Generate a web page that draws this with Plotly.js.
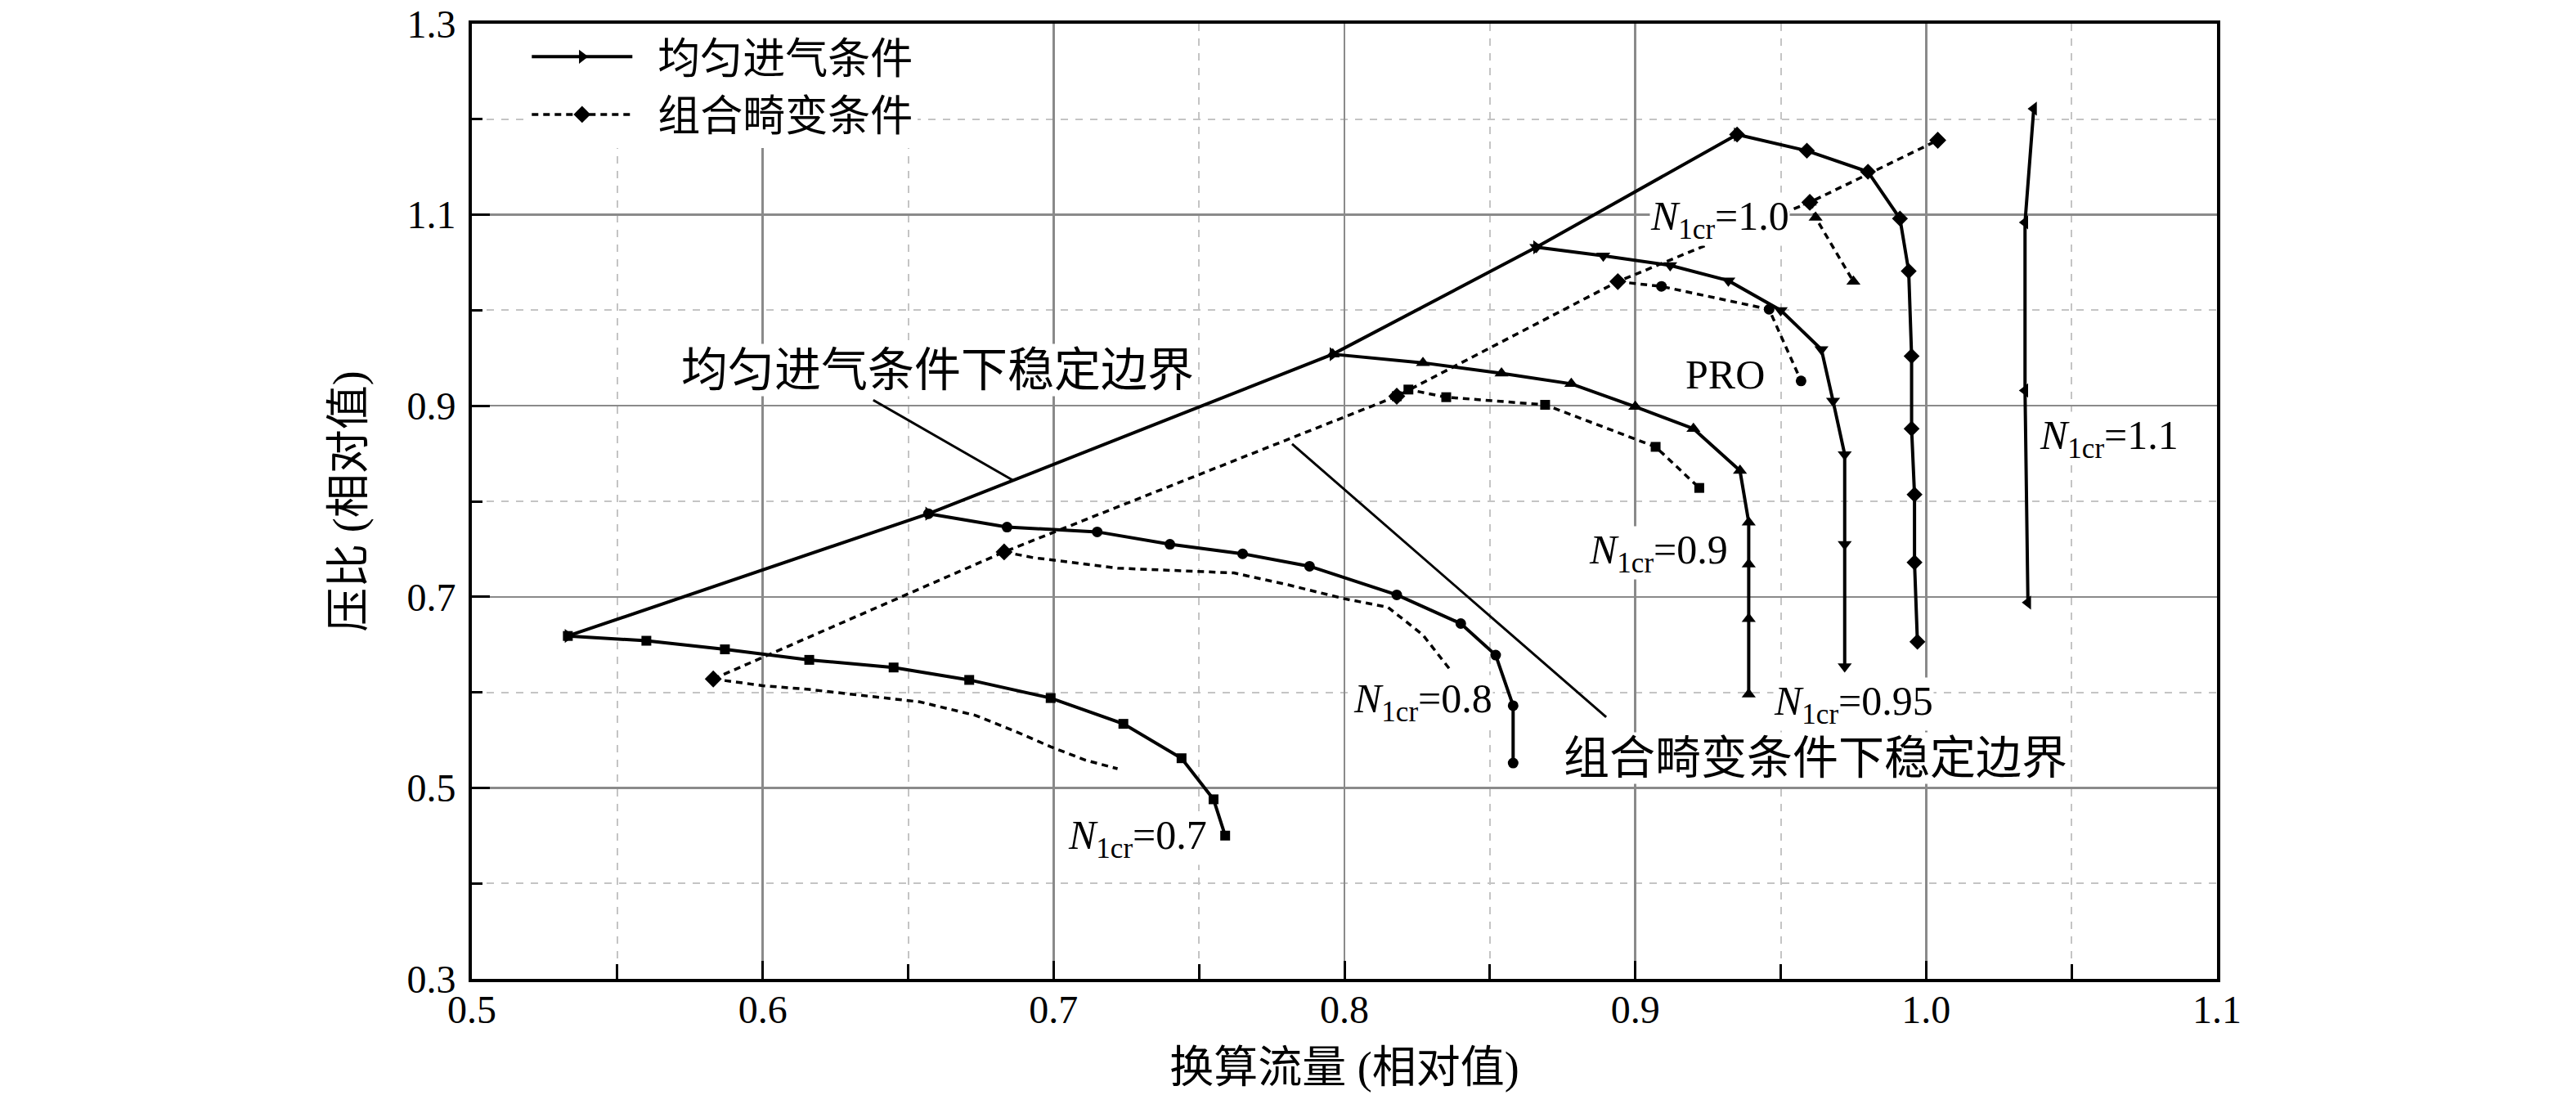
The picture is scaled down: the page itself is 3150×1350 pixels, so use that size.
<!DOCTYPE html>
<html>
<head>
<meta charset="utf-8">
<script src="https://cdn.plot.ly/plotly-3.0.1.min.js"></script>
<style>
  body { margin: 0; background: #fff; }
  #plot { width: 3150px; height: 1350px; }
</style>
</head>
<body>
<div id="plot"></div>
<script>
// speed lines, uniform inflow (solid)
const n07X = [0.533, 0.560, 0.587, 0.616, 0.645, 0.671, 0.699, 0.724, 0.744, 0.755, 0.759];
const n07Y = [0.659, 0.654, 0.645, 0.634, 0.626, 0.613, 0.594, 0.567, 0.531, 0.488, 0.450];
const n08X = [0.657, 0.684, 0.715, 0.740, 0.765, 0.788, 0.818, 0.840, 0.852, 0.858, 0.858];
const n08Y = [0.787, 0.773, 0.768, 0.755, 0.745, 0.732, 0.702, 0.672, 0.639, 0.586, 0.526];
const n09X = [0.796, 0.827, 0.854, 0.878, 0.900, 0.920, 0.936, 0.939, 0.939, 0.939, 0.939];
const n09Y = [0.954, 0.945, 0.934, 0.923, 0.899, 0.876, 0.832, 0.778, 0.734, 0.677, 0.598];
const n095X = [0.866, 0.889, 0.912, 0.932, 0.950, 0.964, 0.968, 0.972, 0.972, 0.972];
const n095Y = [1.066, 1.057, 1.047, 1.031, 1.000, 0.959, 0.905, 0.849, 0.755, 0.627];
const n10X = [0.935, 0.959, 0.980, 0.991, 0.994, 0.995, 0.995, 0.996, 0.996, 0.997];
const n10Y = [1.184, 1.167, 1.145, 1.096, 1.041, 0.952, 0.876, 0.807, 0.736, 0.653];
const n11X = [1.037, 1.034, 1.034, 1.035];
const n11Y = [1.211, 1.092, 0.916, 0.694];

// speed lines, combined distortion (dashed)
const n07dX = [0.583, 0.600, 0.616, 0.636, 0.654, 0.673, 0.687, 0.699, 0.711, 0.722];
const n07dY = [0.614, 0.607, 0.603, 0.596, 0.590, 0.576, 0.559, 0.543, 0.529, 0.520];
const n08dX = [0.683, 0.693, 0.722, 0.762, 0.780, 0.800, 0.815, 0.827, 0.836];
const n08dY = [0.747, 0.741, 0.730, 0.725, 0.713, 0.698, 0.689, 0.660, 0.625];
const n09dX = [0.818, 0.822, 0.835, 0.869, 0.907, 0.922];
const n09dY = [0.910, 0.917, 0.909, 0.901, 0.857, 0.814];
const n095dX = [0.894, 0.909, 0.946, 0.957];
const n095dY = [1.030, 1.025, 1.001, 0.926];
const n10dX = [0.960, 0.962, 0.975];
const n10dY = [1.113, 1.097, 1.030];

// stability boundaries
const surgeUniX = [0.533, 0.657, 0.796, 0.866, 0.935];
const surgeUniY = [0.659, 0.787, 0.954, 1.066, 1.184];
const surgeDistX = [0.583, 0.683, 0.818, 0.894, 0.960, 1.004];
const surgeDistY = [0.614, 0.747, 0.910, 1.030, 1.113, 1.178];

const xTicks = [0.5, 0.6, 0.7, 0.8, 0.9, 1.0, 1.1];
const xTickText = ['0.5', '0.6', '0.7', '0.8', '0.9', '1.0', '1.1'];
const yTicks = [0.3, 0.5, 0.7, 0.9, 1.1, 1.3];
const yTickText = ['0.3', '0.5', '0.7', '0.9', '1.1', '1.3'];

const FONT = 'Liberation Serif, Noto Sans CJK SC, serif';
const SOLID_W = 4;
const DASH_W = 3.5;
const DASH = '8px,6px';

function line(x, y, dashed, symbol, size, name, legend) {
    return {
        x: x, y: y,
        type: 'scatter',
        mode: symbol ? 'lines+markers' : 'lines',
        name: name || '',
        showlegend: !!legend,
        line: { color: '#000', width: dashed ? DASH_W : SOLID_W, dash: dashed ? DASH : 'solid' },
        marker: { symbol: symbol || 'circle', size: size || 12, color: '#000' },
        hoverinfo: 'x+y'
    };
}

const traces = [
    line(surgeUniX, surgeUniY, false, 'triangle-right', 15, '\u2002均匀进气条件', true),
    line(surgeDistX, surgeDistY, true, 'diamond', 16, '\u2002组合畸变条件', true),
    line(n07X, n07Y, false, 'square', 12),
    line(n08X, n08Y, false, 'circle', 13),
    line(n09X, n09Y, false, 'triangle-up', 15),
    line(n095X, n095Y, false, 'triangle-down', 15),
    line(n10X, n10Y, false, 'diamond', 15),
    line(n11X, n11Y, false, 'triangle-left', 15),
    line(n07dX, n07dY, true, null),
    line(n08dX, n08dY, true, null),
    line(n09dX, n09dY, true, 'square', 12),
    line(n095dX, n095dY, true, 'circle', 13),
    line(n10dX, n10dY, true, 'triangle-up', 15)
];

function label(x, y, text, size) {
    return {
        x: x, y: y, xref: 'x', yref: 'y',
        text: text, showarrow: false,
        font: { family: FONT, size: size || 50, color: '#000' },
        bgcolor: '#fff', borderpad: 0
    };
}

const annotations = [
    label(0.929, 1.095, '<i>N</i><sub>1cr</sub>=1.0'),
    label(0.931, 0.933, 'PRO'),
    label(0.908, 0.746, '<i>N</i><sub>1cr</sub>=0.9'),
    label(0.827, 0.590, '<i>N</i><sub>1cr</sub>=0.8'),
    label(0.975, 0.588, '<i>N</i><sub>1cr</sub>=0.95'),
    label(1.063, 0.866, '<i>N</i><sub>1cr</sub>=1.1'),
    label(0.729, 0.447, '<i>N</i><sub>1cr</sub>=0.7'),
    label(0.660, 0.937, '均匀进气条件下稳定边界', 57),
    label(0.962, 0.531, '组合畸变条件下稳定边界', 56)
];

// leader lines from the two boundary labels
const shapes = [
    { type: 'line', xref: 'x', yref: 'y', x0: 0.638, y0: 0.906, x1: 0.686, y1: 0.822,
      line: { color: '#000', width: 3 } },
    { type: 'line', xref: 'x', yref: 'y', x0: 0.782, y0: 0.860, x1: 0.890, y1: 0.574,
      line: { color: '#000', width: 3 } }
];

const axisCommon = {
    showline: true, mirror: true, linecolor: '#000', linewidth: 4,
    showgrid: true, gridcolor: '#8a8a8a', gridwidth: 2.5,
    zeroline: false,
    ticks: 'inside', ticklen: 22, tickwidth: 3, tickcolor: '#000',
    tickfont: { family: FONT, size: 48, color: '#000' }
};

const layout = {
    width: 3150, height: 1350,
    margin: { l: 577, r: 439, t: 29, b: 153 },
    paper_bgcolor: '#fff', plot_bgcolor: '#fff',
    font: { family: FONT, color: '#000' },
    showlegend: true,
    legend: {
        x: 0.032, y: 1.0, xanchor: 'left', yanchor: 'top',
        bgcolor: '#fff', borderwidth: 0,
        font: { family: FONT, size: 52, color: '#000' },
        itemwidth: 123, tracegroupgap: 0
    },
    xaxis: Object.assign({}, axisCommon, {
        range: [0.5, 1.1], tickvals: xTicks, ticktext: xTickText,
        ticklabelstandoff: -8,
        minor: { dtick: 0.05, showgrid: true, gridcolor: '#c4c4c4', griddash: 'dash',
                 gridwidth: 2, ticks: 'inside', ticklen: 18, tickcolor: '#000', tickwidth: 3 },
        title: { text: '换算流量 (相对值)', font: { family: FONT, size: 54, color: '#000' }, standoff: 28 }
    }),
    yaxis: Object.assign({}, axisCommon, {
        range: [0.3, 1.3], tickvals: yTicks, ticktext: yTickText,
        ticklabelstandoff: 6,
        minor: { dtick: 0.1, showgrid: true, gridcolor: '#c4c4c4', griddash: 'dash',
                 gridwidth: 2, ticks: 'inside', ticklen: 13, tickcolor: '#000', tickwidth: 3 },
        title: { text: '压比 (相对值)', font: { family: FONT, size: 54, color: '#000' }, standoff: 36 }
    }),
    annotations: annotations,
    shapes: shapes
};

Plotly.newPlot('plot', traces, layout, { staticPlot: true });
</script>
</body>
</html>
